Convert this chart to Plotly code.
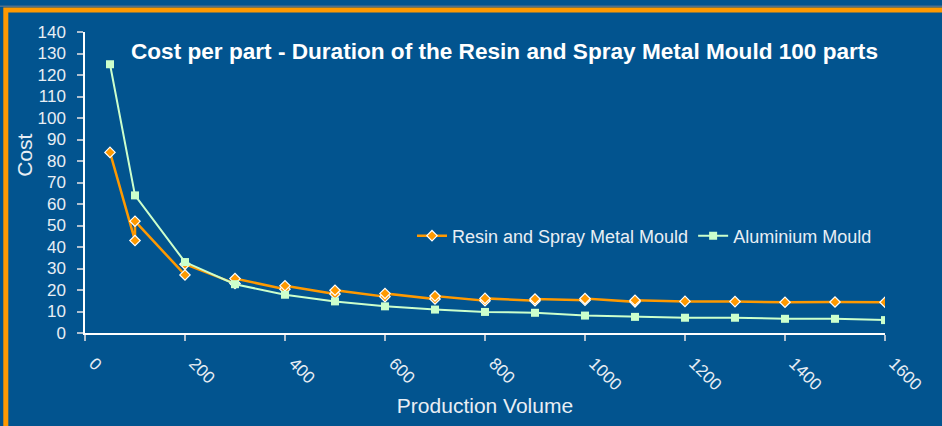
import plotly.graph_objects as go

# Data
resin_x = [50, 100, 100, 200, 200, 300, 300, 400, 400, 500, 500, 600, 600, 700, 700,
           800, 800, 900, 900, 1000, 1000, 1100, 1100, 1200, 1300, 1400, 1500, 1600]
resin_y = [84, 43, 52, 27, 32, 23, 25.3, 20.4, 22, 18.1, 19.9, 16.9, 18.4, 15.8, 17.2,
           15.0, 16.1, 15.0, 15.8, 15.2, 16.0, 14.5, 15.2, 14.7, 14.6, 14.3, 14.4, 14.3]
alu_x = [50, 100, 200, 300, 400, 500, 600, 700, 800, 900, 1000, 1100, 1200, 1300, 1400, 1500, 1600]
alu_y = [125, 64, 33, 22.7, 17.8, 14.7, 12.4, 10.9, 9.8, 9.4, 8.1, 7.5, 7.1, 7.1, 6.6, 6.6, 6.0]

title_text = "Cost per part - Duration of the Resin and Spray Metal Mould 100 parts"
x_title = "Production Volume"
y_title = "Cost"
x_ticks = list(range(0, 1601, 200))
y_ticks = list(range(0, 141, 10))

BG = "#02548F"
ORANGE = "#FF9900"
GREEN = "#CCFFCC"
TXT = "#E8EEF4"
FONT = "Liberation Sans, Arial, sans-serif"

W, H = 942, 426
L, R, T, B = 85, 57, 32, 90
pw, ph = W - L - R, H - T - B

def px(xp):
    return (xp - L) / pw

def py(yp):
    return (H - B - yp) / ph

fig = go.Figure()
fig.add_trace(go.Scatter(
    x=resin_x, y=resin_y, mode="lines+markers", name="Resin and Spray Metal Mould",
    line=dict(color=ORANGE, width=2.5),
    marker=dict(symbol="diamond", size=8, color=ORANGE, line=dict(color="white", width=1.2)),
))
fig.add_trace(go.Scatter(
    x=alu_x, y=alu_y, mode="lines+markers", name="Aluminium Mould",
    line=dict(color=GREEN, width=2),
    marker=dict(symbol="square", size=8, color=GREEN),
))

fig.update_layout(
    width=W, height=H,
    margin=dict(l=L, r=R, t=T, b=B),
    paper_bgcolor=BG, plot_bgcolor=BG,
    font=dict(family=FONT, color=TXT, size=17),
    showlegend=True,
    legend=dict(orientation="h", x=px(877), xanchor="right", y=py(238), yanchor="middle",
                bgcolor="rgba(0,0,0,0)", font=dict(size=18, color=TXT),
                itemwidth=30, traceorder="normal"),
    xaxis=dict(range=[0, 1600], tickvals=x_ticks, ticktext=[str(v) for v in x_ticks],
               tickangle=45, showgrid=False, zeroline=False,
               showline=True, linecolor="white", linewidth=1.5,
               ticks="outside", ticklen=6, tickcolor="#B0C0D0", tickwidth=1.5,
               ticklabelshift=9, ticklabelstandoff=6,
               tickfont=dict(size=17, color=TXT),
               title=dict(text=x_title, font=dict(size=21, color=TXT), standoff=5)),
    yaxis=dict(range=[0, 140], tickvals=y_ticks, showgrid=False, zeroline=False,
               showline=True, linecolor="white", linewidth=1.5,
               ticks="outside", ticklen=6, tickcolor="#B0C0D0", tickwidth=1.5,
               ticklabelstandoff=8,
               tickfont=dict(size=17, color=TXT)),
    annotations=[
        dict(text="<b>" + title_text + "</b>", xref="paper", yref="paper",
             x=px(129), y=py(52), xanchor="left", yanchor="middle", showarrow=False,
             font=dict(size=22.6, color="white", family=FONT)),
        dict(text=y_title, xref="paper", yref="paper", x=px(25), y=py(157),
             xanchor="center", yanchor="middle", textangle=-90, showarrow=False,
             font=dict(size=21, color=TXT, family=FONT)),
    ],
    shapes=[
        dict(type="line", xref="paper", yref="paper", x0=px(0), x1=px(960),
             y0=py(6), y1=py(6), line=dict(color="#51708A", width=1.5), layer="below"),
        dict(type="rect", xref="paper", yref="paper", x0=px(5.8), x1=px(990),
             y0=py(460), y1=py(9.8), line=dict(color=ORANGE, width=5), layer="below"),
    ],
)

fig.write_html("out.html", config={"displayModeBar": False},
               post_script="document.body.style.margin='0';document.body.style.overflow='hidden';")
